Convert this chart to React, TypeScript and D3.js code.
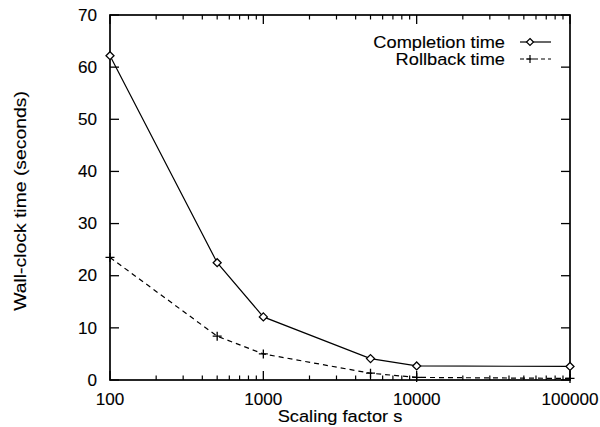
import React from "react";
import * as d3 from "d3";

const scalingFactors = [100, 500, 1000, 5000, 10000, 100000];
const completionTime = [62.2, 22.5, 12.1, 4.1, 2.7, 2.6];
const rollbackTime = [23.5, 8.4, 5.0, 1.3, 0.5, 0.3];
const yTicks = [0, 10, 20, 30, 40, 50, 60, 70];
const xMajorTicks = [100, 1000, 10000, 100000];
const seriesNames = ["Completion time", "Rollback time"];
const xTitle = "Scaling factor s";
const yTitle = "Wall-clock time (seconds)";

const W = 600;
const H = 427;
const M = { left: 110, right: 570, top: 15, bottom: 380 };
const FONT = "'Liberation Sans', Arial, Helvetica, sans-serif";
const SX = 1.14;

export default function App() {
  const x = d3.scaleLog().domain([100, 100000]).range([M.left, M.right]);
  const y = d3.scaleLinear().domain([0, 70]).range([M.bottom, M.top]);

  const minorTicks: number[] = [];
  for (let d = 100; d < 100000; d *= 10) {
    for (let k = 2; k <= 9; k++) minorTicks.push(d * k);
  }

  const line = d3
    .line<[number, number]>()
    .x((d) => x(d[0]))
    .y((d) => y(d[1]));

  const compPts: [number, number][] = scalingFactors.map((s, i) => [s, completionTime[i]]);
  const rollPts: [number, number][] = scalingFactors.map((s, i) => [s, rollbackTime[i]]);

  const diamond = (cx: number, cy: number, r = 4) =>
    `M${cx},${cy - r}L${cx + r},${cy}L${cx},${cy + r}L${cx - r},${cy}Z`;
  const plus = (cx: number, cy: number, r = 4.5) =>
    `M${cx - r},${cy}L${cx + r},${cy}M${cx},${cy - r}L${cx},${cy + r}`;

  const majorLen = 9;
  const minorLen = 4.5;

  const T = (
    tx: number,
    ty: number,
    txt: string,
    anchor: "start" | "middle" | "end",
    size = 16,
    sx = SX
  ) => (
    <text
      key={txt + tx + ty}
      transform={`translate(${tx},${ty}) scale(${sx},1)`}
      textAnchor={anchor}
      fontFamily={FONT}
      fontSize={size}
      fill="#000"
      stroke="#000"
      strokeWidth={0.12}
    >
      {txt}
    </text>
  );

  const legendY = [42, 59];
  const lx0 = 520;
  const lx1 = 551;
  const lm = 530;

  return (
    <svg width={W} height={H} style={{ position: "absolute", left: 0, top: 0, background: "#fff" }}>
      <rect x={0} y={0} width={W} height={H} fill="#fff" />
      <rect
        x={M.left}
        y={M.top}
        width={M.right - M.left}
        height={M.bottom - M.top}
        fill="none"
        stroke="#000"
        strokeWidth={1.7}
      />
      {yTicks.map((t) => (
        <g key={"y" + t} stroke="#000" strokeWidth={1.3}>
          <line x1={M.left} x2={M.left + majorLen} y1={y(t)} y2={y(t)} />
          <line x1={M.right} x2={M.right - majorLen} y1={y(t)} y2={y(t)} />
        </g>
      ))}
      {yTicks.map((t) => T(97, y(t) + 5.7, String(t), "end", 16, 1.07))}
      {xMajorTicks.map((t) => (
        <g key={"xm" + t} stroke="#000" strokeWidth={1.3}>
          <line x1={x(t)} x2={x(t)} y1={M.bottom} y2={M.bottom - majorLen} />
          <line x1={x(t)} x2={x(t)} y1={M.top} y2={M.top + majorLen} />
        </g>
      ))}
      {minorTicks.map((t) => (
        <g key={"xn" + t} stroke="#000" strokeWidth={1.2}>
          <line x1={x(t)} x2={x(t)} y1={M.bottom} y2={M.bottom - minorLen} />
          <line x1={x(t)} x2={x(t)} y1={M.top} y2={M.top + minorLen} />
        </g>
      ))}
      {xMajorTicks.map((t) => T(x(t), 404.5, String(t), "middle", 16, 1.07))}
      {T(340, 421.5, xTitle, "middle", 16, SX)}
      <text
        transform={`translate(26,201) rotate(-90) scale(1.21,1)`}
        textAnchor="middle"
        fontFamily={FONT}
        fontSize={16}
        fill="#000"
        stroke="#000"
        strokeWidth={0.12}
      >
        {yTitle}
      </text>
      <path d={line(compPts) || ""} fill="none" stroke="#000" strokeWidth={1.2} />
      <path
        d={line(rollPts) || ""}
        fill="none"
        stroke="#000"
        strokeWidth={1.2}
        strokeDasharray="5,4"
      />
      {compPts.map((p, i) => (
        <path
          key={"c" + i}
          d={diamond(x(p[0]), y(p[1]))}
          fill="#fff"
          stroke="#000"
          strokeWidth={1.3}
        />
      ))}
      {rollPts.map((p, i) => (
        <path key={"r" + i} d={plus(x(p[0]), y(p[1]))} fill="none" stroke="#000" strokeWidth={1.3} />
      ))}
      {T(505, legendY[0] + 5.7, seriesNames[0], "end", 16, SX)}
      {T(505, legendY[1] + 5.7, seriesNames[1], "end", 16, SX)}
      <line x1={lx0} x2={lx1} y1={legendY[0]} y2={legendY[0]} stroke="#000" strokeWidth={1.2} />
      <path d={diamond(lm, legendY[0], 3.5)} fill="#fff" stroke="#000" strokeWidth={1.2} />
      <line
        x1={lx0}
        x2={lx1}
        y1={legendY[1]}
        y2={legendY[1]}
        stroke="#000"
        strokeWidth={1.2}
        strokeDasharray="4,3"
      />
      <path d={plus(lm, legendY[1], 4)} fill="none" stroke="#000" strokeWidth={1.2} />
    </svg>
  );
}
